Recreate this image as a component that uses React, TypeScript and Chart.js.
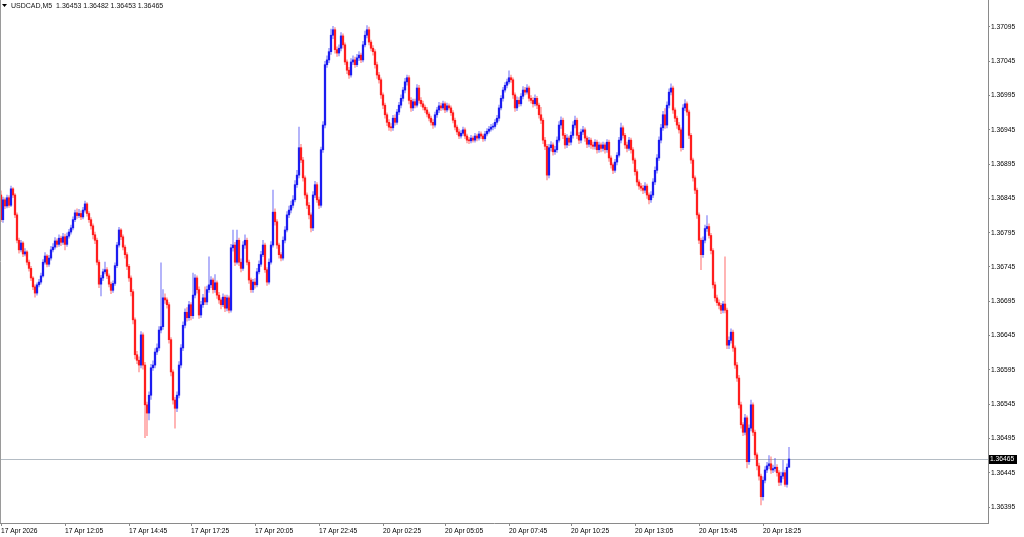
import React, { useEffect, useRef } from "react";
import { Chart, registerables } from "chart.js";

Chart.register(...registerables);

const symbol = "USDCAD,M5";

const closes = [
  1.36814,1.36843,1.36834,1.36846,1.36835,1.36859,1.36850,1.36821,1.36784,1.36770,
  1.36780,1.36764,1.36767,1.36752,1.36743,1.36729,1.36716,1.36707,1.36719,1.36723,
  1.36732,1.36752,1.36761,1.36749,1.36758,1.36770,1.36774,1.36783,1.36778,1.36787,
  1.36781,1.36789,1.36778,1.36790,1.36796,1.36802,1.36814,1.36824,1.36820,1.36823,
  1.36818,1.36828,1.36837,1.36823,1.36814,1.36805,1.36792,1.36784,1.36752,1.36720,
  1.36729,1.36738,1.36741,1.36732,1.36720,1.36711,1.36721,1.36747,1.36777,1.36799,
  1.36789,1.36774,1.36763,1.36746,1.36729,1.36709,1.36668,1.36617,1.36609,1.36602,
  1.36646,1.36602,1.36544,1.36532,1.36558,1.36598,1.36602,1.36621,1.36627,1.36653,
  1.36658,1.36700,1.36697,1.36690,1.36639,1.36592,1.36551,1.36539,1.36558,1.36602,
  1.36627,1.36660,1.36679,1.36671,1.36690,1.36674,1.36704,1.36729,1.36712,1.36675,
  1.36690,1.36700,1.36694,1.36712,1.36719,1.36726,1.36712,1.36722,1.36704,1.36697,
  1.36690,1.36701,1.36685,1.36700,1.36682,1.36773,1.36777,1.36752,1.36784,1.36752,
  1.36743,1.36777,1.36784,1.36752,1.36726,1.36712,1.36723,1.36719,1.36738,1.36749,
  1.36763,1.36777,1.36741,1.36723,1.36752,1.36777,1.36825,1.36811,1.36777,1.36763,
  1.36758,1.36784,1.36799,1.36821,1.36828,1.36835,1.36843,1.36865,1.36879,1.36919,
  1.36901,1.36875,1.36850,1.36835,1.36821,1.36802,1.36850,1.36865,1.36843,1.36835,
  1.36916,1.36952,1.37040,1.37047,1.37059,1.37083,1.37091,1.37062,1.37057,1.37064,
  1.37082,1.37069,1.37044,1.37032,1.37025,1.37044,1.37047,1.37040,1.37050,1.37054,
  1.37047,1.37069,1.37083,1.37091,1.37073,1.37064,1.37059,1.37040,1.37025,1.37018,
  1.36996,1.36981,1.36967,1.36956,1.36949,1.36948,1.36962,1.36956,1.36971,1.36981,
  1.36991,1.37003,1.37015,1.37021,1.36988,1.36977,1.36986,1.36981,1.37006,1.36988,
  1.36983,1.36978,1.36974,1.36968,1.36962,1.36956,1.36952,1.36967,1.36974,1.36980,
  1.36977,1.36983,1.36974,1.36980,1.36977,1.36970,1.36959,1.36949,1.36942,1.36936,
  1.36940,1.36945,1.36936,1.36930,1.36929,1.36933,1.36930,1.36936,1.36933,1.36939,
  1.36936,1.36932,1.36939,1.36943,1.36946,1.36949,1.36950,1.36956,1.36962,1.36977,
  1.36991,1.37003,1.37010,1.37015,1.37021,1.37018,1.36996,1.36977,1.36988,1.36983,
  1.36994,1.37003,1.37000,1.37006,1.36991,1.36988,1.36983,1.36991,1.36981,1.36967,
  1.36959,1.36930,1.36921,1.36879,1.36919,1.36923,1.36913,1.36916,1.36930,1.36952,
  1.36959,1.36937,1.36923,1.36933,1.36927,1.36937,1.36952,1.36959,1.36937,1.36930,
  1.36942,1.36945,1.36933,1.36924,1.36930,1.36923,1.36921,1.36927,1.36916,1.36923,
  1.36918,1.36923,1.36916,1.36927,1.36904,1.36894,1.36886,1.36898,1.36908,1.36930,
  1.36948,1.36937,1.36923,1.36918,1.36930,1.36916,1.36901,1.36884,1.36869,1.36863,
  1.36860,1.36857,1.36863,1.36850,1.36843,1.36850,1.36869,1.36886,1.36904,1.36930,
  1.36948,1.36967,1.36952,1.36981,1.37000,1.37006,1.36974,1.36962,1.36952,1.36945,
  1.36919,1.36977,1.36983,1.36971,1.36937,1.36901,1.36875,1.36857,1.36821,1.36784,
  1.36763,1.36784,1.36801,1.36804,1.36791,1.36769,1.36719,1.36700,1.36693,1.36689,
  1.36682,1.36691,1.36682,1.36631,1.36638,1.36650,1.36627,1.36602,1.36583,1.36544,
  1.36515,1.36504,1.36525,1.36461,1.36510,1.36544,1.36504,1.36471,1.36455,1.36440,
  1.36410,1.36434,1.36449,1.36455,1.36458,1.36449,1.36451,1.36453,1.36445,1.36431,
  1.36440,1.36445,1.36428,1.36453,1.36465,
];

const opens = [
  1.36850,
  1.36814,1.36843,1.36834,1.36846,1.36835,1.36859,1.36850,1.36821,1.36784,1.36770,
  1.36780,1.36764,1.36767,1.36752,1.36743,1.36729,1.36716,1.36707,1.36719,1.36723,
  1.36732,1.36752,1.36761,1.36749,1.36758,1.36770,1.36774,1.36783,1.36778,1.36787,
  1.36781,1.36789,1.36778,1.36790,1.36796,1.36802,1.36814,1.36824,1.36820,1.36823,
  1.36818,1.36828,1.36837,1.36823,1.36814,1.36805,1.36792,1.36784,1.36752,1.36720,
  1.36729,1.36738,1.36741,1.36732,1.36720,1.36711,1.36721,1.36747,1.36777,1.36799,
  1.36789,1.36774,1.36763,1.36746,1.36729,1.36709,1.36668,1.36617,1.36609,1.36602,
  1.36646,1.36602,1.36544,1.36532,1.36558,1.36598,1.36602,1.36621,1.36627,1.36653,
  1.36658,1.36700,1.36697,1.36690,1.36639,1.36592,1.36551,1.36539,1.36558,1.36602,
  1.36627,1.36660,1.36679,1.36671,1.36690,1.36674,1.36704,1.36729,1.36712,1.36675,
  1.36690,1.36700,1.36694,1.36712,1.36719,1.36726,1.36712,1.36722,1.36704,1.36697,
  1.36690,1.36701,1.36685,1.36700,1.36682,1.36773,1.36777,1.36752,1.36784,1.36752,
  1.36743,1.36777,1.36784,1.36752,1.36726,1.36712,1.36723,1.36719,1.36738,1.36749,
  1.36763,1.36777,1.36741,1.36723,1.36752,1.36777,1.36825,1.36811,1.36777,1.36763,
  1.36758,1.36784,1.36799,1.36821,1.36828,1.36835,1.36843,1.36865,1.36879,1.36919,
  1.36901,1.36875,1.36850,1.36835,1.36821,1.36802,1.36850,1.36865,1.36843,1.36835,
  1.36916,1.36952,1.37040,1.37047,1.37059,1.37083,1.37091,1.37062,1.37057,1.37064,
  1.37082,1.37069,1.37044,1.37032,1.37025,1.37044,1.37047,1.37040,1.37050,1.37054,
  1.37047,1.37069,1.37083,1.37091,1.37073,1.37064,1.37059,1.37040,1.37025,1.37018,
  1.36996,1.36981,1.36967,1.36956,1.36949,1.36948,1.36962,1.36956,1.36971,1.36981,
  1.36991,1.37003,1.37015,1.37021,1.36988,1.36977,1.36986,1.36981,1.37006,1.36988,
  1.36983,1.36978,1.36974,1.36968,1.36962,1.36956,1.36952,1.36967,1.36974,1.36980,
  1.36977,1.36983,1.36974,1.36980,1.36977,1.36970,1.36959,1.36949,1.36942,1.36936,
  1.36940,1.36945,1.36936,1.36930,1.36929,1.36933,1.36930,1.36936,1.36933,1.36939,
  1.36936,1.36932,1.36939,1.36943,1.36946,1.36949,1.36950,1.36956,1.36962,1.36977,
  1.36991,1.37003,1.37010,1.37015,1.37021,1.37018,1.36996,1.36977,1.36988,1.36983,
  1.36994,1.37003,1.37000,1.37006,1.36991,1.36988,1.36983,1.36991,1.36981,1.36967,
  1.36959,1.36930,1.36921,1.36879,1.36919,1.36923,1.36913,1.36916,1.36930,1.36952,
  1.36959,1.36937,1.36923,1.36933,1.36927,1.36937,1.36952,1.36959,1.36937,1.36930,
  1.36942,1.36945,1.36933,1.36924,1.36930,1.36923,1.36921,1.36927,1.36916,1.36923,
  1.36918,1.36923,1.36916,1.36927,1.36904,1.36894,1.36886,1.36898,1.36908,1.36930,
  1.36948,1.36937,1.36923,1.36918,1.36930,1.36916,1.36901,1.36884,1.36869,1.36863,
  1.36860,1.36857,1.36863,1.36850,1.36843,1.36850,1.36869,1.36886,1.36904,1.36930,
  1.36948,1.36967,1.36952,1.36981,1.37000,1.37006,1.36974,1.36962,1.36952,1.36945,
  1.36919,1.36977,1.36983,1.36971,1.36937,1.36901,1.36875,1.36857,1.36821,1.36784,
  1.36763,1.36784,1.36801,1.36804,1.36791,1.36769,1.36719,1.36700,1.36693,1.36689,
  1.36682,1.36691,1.36682,1.36631,1.36638,1.36650,1.36627,1.36602,1.36583,1.36544,
  1.36515,1.36504,1.36525,1.36461,1.36510,1.36544,1.36504,1.36471,1.36455,1.36440,
  1.36410,1.36434,1.36449,1.36455,1.36458,1.36449,1.36451,1.36453,1.36445,1.36431,
  1.36440,1.36445,1.36428,1.36453,
];

const highs = [
  1.36856,1.36847,1.36846,1.36850,1.36849,1.36863,1.36861,1.36852,1.36824,1.36787,
  1.36784,1.36782,1.36772,1.36769,1.36755,1.36746,1.36731,1.36719,1.36722,1.36727,
  1.36736,1.36756,1.36766,1.36763,1.36762,1.36775,1.36779,1.36788,1.36786,1.36792,
  1.36790,1.36794,1.36793,1.36795,1.36800,1.36806,1.36818,1.36828,1.36830,1.36829,
  1.36827,1.36832,1.36841,1.36839,1.36826,1.36817,1.36808,1.36796,1.36787,1.36755,
  1.36733,1.36742,1.36752,1.36744,1.36735,1.36723,1.36725,1.36751,1.36781,1.36803,
  1.36801,1.36792,1.36777,1.36766,1.36749,1.36732,1.36712,1.36671,1.36622,1.36614,
  1.36651,1.36649,1.36606,1.36548,1.36563,1.36603,1.36608,1.36626,1.36633,1.36658,
  1.36751,1.36712,1.36706,1.36700,1.36693,1.36642,1.36595,1.36555,1.36563,1.36607,
  1.36632,1.36665,1.36684,1.36686,1.36695,1.36693,1.36736,1.36734,1.36732,1.36716,
  1.36695,1.36705,1.36716,1.36717,1.36760,1.36731,1.36729,1.36734,1.36725,1.36708,
  1.36700,1.36706,1.36704,1.36704,1.36703,1.36778,1.36799,1.36781,1.36799,1.36787,
  1.36757,1.36782,1.36792,1.36787,1.36755,1.36729,1.36727,1.36728,1.36743,1.36754,
  1.36768,1.36784,1.36780,1.36744,1.36757,1.36782,1.36857,1.36830,1.36814,1.36780,
  1.36766,1.36789,1.36804,1.36826,1.36834,1.36841,1.36849,1.36871,1.36886,1.36949,
  1.36924,1.36905,1.36878,1.36853,1.36839,1.36824,1.36855,1.36870,1.36868,1.36847,
  1.36920,1.36957,1.37045,1.37053,1.37064,1.37092,1.37096,1.37094,1.37066,1.37069,
  1.37087,1.37085,1.37072,1.37047,1.37036,1.37049,1.37053,1.37051,1.37055,1.37059,
  1.37057,1.37074,1.37089,1.37097,1.37095,1.37076,1.37068,1.37062,1.37044,1.37029,
  1.37021,1.36999,1.36984,1.36970,1.36960,1.36954,1.36966,1.36967,1.36975,1.36985,
  1.36996,1.37007,1.37020,1.37025,1.37024,1.36992,1.36990,1.36990,1.37011,1.37010,
  1.36992,1.36987,1.36981,1.36978,1.36971,1.36965,1.36960,1.36971,1.36978,1.36985,
  1.36984,1.36987,1.36986,1.36984,1.36983,1.36980,1.36973,1.36962,1.36952,1.36946,
  1.36944,1.36949,1.36948,1.36939,1.36934,1.36937,1.36936,1.36940,1.36939,1.36943,
  1.36942,1.36939,1.36943,1.36947,1.36950,1.36953,1.36954,1.36960,1.36966,1.36981,
  1.36995,1.37007,1.37014,1.37019,1.37031,1.37025,1.37021,1.36999,1.36993,1.36992,
  1.36998,1.37008,1.37007,1.37011,1.37009,1.36995,1.36992,1.36996,1.36994,1.36984,
  1.36978,1.36962,1.36934,1.36924,1.36924,1.36928,1.36926,1.36921,1.36935,1.36957,
  1.36964,1.36962,1.36940,1.36938,1.36936,1.36942,1.36957,1.36965,1.36962,1.36941,
  1.36946,1.36950,1.36948,1.36936,1.36934,1.36933,1.36927,1.36931,1.36930,1.36927,
  1.36926,1.36927,1.36926,1.36931,1.36930,1.36907,1.36897,1.36902,1.36912,1.36934,
  1.36955,1.36951,1.36940,1.36927,1.36934,1.36933,1.36919,1.36904,1.36887,1.36872,
  1.36867,1.36864,1.36868,1.36866,1.36853,1.36855,1.36874,1.36891,1.36909,1.36935,
  1.36953,1.36972,1.36976,1.36986,1.37005,1.37012,1.37009,1.36977,1.36965,1.36956,
  1.36948,1.36982,1.36989,1.36986,1.36974,1.36940,1.36904,1.36878,1.36860,1.36824,
  1.36787,1.36789,1.36806,1.36820,1.36808,1.36794,1.36772,1.36723,1.36704,1.36697,
  1.36692,1.36695,1.36760,1.36685,1.36643,1.36655,1.36653,1.36630,1.36606,1.36587,
  1.36548,1.36518,1.36530,1.36528,1.36515,1.36551,1.36547,1.36507,1.36474,1.36459,
  1.36443,1.36439,1.36454,1.36460,1.36470,1.36468,1.36456,1.36466,1.36457,1.36448,
  1.36446,1.36463,1.36449,1.36458,1.36482,
];

const lows = [
  1.36811,1.36810,1.36830,1.36831,1.36832,1.36833,1.36846,1.36817,1.36780,1.36765,
  1.36767,1.36760,1.36761,1.36748,1.36739,1.36725,1.36712,1.36701,1.36704,1.36716,
  1.36720,1.36730,1.36749,1.36745,1.36746,1.36755,1.36767,1.36771,1.36774,1.36775,
  1.36776,1.36778,1.36770,1.36775,1.36787,1.36793,1.36799,1.36811,1.36816,1.36817,
  1.36814,1.36815,1.36825,1.36819,1.36810,1.36800,1.36786,1.36779,1.36748,1.36715,
  1.36703,1.36725,1.36735,1.36728,1.36716,1.36706,1.36708,1.36718,1.36744,1.36774,
  1.36785,1.36770,1.36758,1.36741,1.36724,1.36703,1.36662,1.36611,1.36604,1.36592,
  1.36598,1.36596,1.36496,1.36499,1.36522,1.36552,1.36594,1.36598,1.36617,1.36623,
  1.36649,1.36654,1.36692,1.36685,1.36634,1.36586,1.36545,1.36510,1.36534,1.36554,
  1.36598,1.36623,1.36656,1.36666,1.36667,1.36668,1.36670,1.36700,1.36707,1.36670,
  1.36671,1.36686,1.36690,1.36690,1.36708,1.36715,1.36707,1.36708,1.36699,1.36692,
  1.36684,1.36687,1.36680,1.36681,1.36678,1.36679,1.36768,1.36747,1.36749,1.36747,
  1.36738,1.36740,1.36772,1.36748,1.36721,1.36708,1.36708,1.36714,1.36716,1.36735,
  1.36746,1.36760,1.36737,1.36718,1.36720,1.36749,1.36774,1.36806,1.36772,1.36758,
  1.36754,1.36755,1.36780,1.36796,1.36817,1.36824,1.36831,1.36840,1.36861,1.36875,
  1.36897,1.36870,1.36845,1.36830,1.36815,1.36796,1.36798,1.36846,1.36839,1.36830,
  1.36832,1.36912,1.36948,1.37036,1.37043,1.37055,1.37078,1.37057,1.37052,1.37053,
  1.37060,1.37064,1.37040,1.37027,1.37020,1.37022,1.37040,1.37036,1.37037,1.37046,
  1.37043,1.37044,1.37066,1.37079,1.37069,1.37060,1.37054,1.37035,1.37020,1.37013,
  1.36991,1.36976,1.36962,1.36951,1.36944,1.36943,1.36944,1.36952,1.36953,1.36967,
  1.36977,1.36987,1.36999,1.37010,1.36983,1.36972,1.36973,1.36977,1.36978,1.36984,
  1.36979,1.36974,1.36970,1.36964,1.36958,1.36952,1.36947,1.36949,1.36963,1.36970,
  1.36973,1.36974,1.36970,1.36971,1.36974,1.36966,1.36955,1.36945,1.36938,1.36932,
  1.36933,1.36937,1.36932,1.36926,1.36925,1.36926,1.36927,1.36927,1.36929,1.36930,
  1.36932,1.36928,1.36929,1.36936,1.36940,1.36943,1.36945,1.36947,1.36953,1.36958,
  1.36974,1.36987,1.37000,1.37006,1.37012,1.37014,1.36991,1.36972,1.36973,1.36979,
  1.36980,1.36990,1.36996,1.36997,1.36987,1.36984,1.36978,1.36980,1.36976,1.36962,
  1.36954,1.36925,1.36916,1.36872,1.36875,1.36914,1.36908,1.36909,1.36912,1.36927,
  1.36947,1.36932,1.36918,1.36919,1.36922,1.36923,1.36933,1.36948,1.36932,1.36925,
  1.36926,1.36938,1.36928,1.36919,1.36920,1.36918,1.36917,1.36917,1.36911,1.36912,
  1.36913,1.36914,1.36911,1.36912,1.36899,1.36889,1.36881,1.36883,1.36894,1.36905,
  1.36926,1.36933,1.36918,1.36913,1.36915,1.36911,1.36896,1.36879,1.36864,1.36858,
  1.36856,1.36852,1.36853,1.36845,1.36837,1.36839,1.36846,1.36865,1.36882,1.36900,
  1.36926,1.36944,1.36947,1.36948,1.36977,1.36996,1.36969,1.36957,1.36947,1.36940,
  1.36914,1.36916,1.36973,1.36966,1.36932,1.36896,1.36870,1.36852,1.36816,1.36779,
  1.36741,1.36759,1.36780,1.36797,1.36787,1.36764,1.36714,1.36695,1.36689,1.36684,
  1.36677,1.36678,1.36678,1.36626,1.36626,1.36634,1.36622,1.36597,1.36578,1.36539,
  1.36510,1.36499,1.36500,1.36452,1.36457,1.36506,1.36499,1.36466,1.36449,1.36434,
  1.36398,1.36405,1.36430,1.36445,1.36451,1.36444,1.36445,1.36447,1.36440,1.36426,
  1.36427,1.36436,1.36425,1.36424,1.36453,
];

const timeLabels = [
  "17 Apr 2026", "17 Apr 12:05", "17 Apr 14:45", "17 Apr 17:25", "17 Apr 20:05",
  "17 Apr 22:45", "20 Apr 02:25", "20 Apr 05:05", "20 Apr 07:45", "20 Apr 10:25",
  "20 Apr 13:05", "20 Apr 15:45", "20 Apr 18:25",
];
const timeLabelBars = [0, 32, 64, 95, 127, 159, 191, 222, 254, 285, 317, 349, 381];

const priceTicks = [
  1.36395, 1.36445, 1.36495, 1.36545, 1.36595, 1.36645, 1.36695, 1.36745,
  1.36795, 1.36845, 1.36895, 1.36945, 1.36995, 1.37045, 1.37095,
];

const BULL = "#1c1cf0";
const BEAR = "#ff1e1e";
const BULL_WICK = "rgba(40,40,240,0.42)";
const BEAR_WICK = "rgba(255,40,40,0.42)";
const FONT = "'Liberation Sans', Arial, sans-serif";

export default function App() {
  const canvasRef = useRef<HTMLCanvasElement | null>(null);

  useEffect(() => {
    document.body.style.margin = "0";
    const canvas = canvasRef.current;
    if (!canvas) return;

    const n = closes.length;
    const bull = (i: number) => closes[i] >= opens[i];
    const wickData = closes.map((_, i) => ({ x: i, y: [lows[i], highs[i]] }));
    const bodyData = closes.map((_, i) => ({
      x: i,
      y: [Math.min(opens[i], closes[i]), Math.max(opens[i], closes[i])],
    }));

    const overlay = {
      id: "mt4overlay",
      beforeDatasetsDraw(chart: any) {
        const { ctx, chartArea } = chart;
        const ys = chart.scales.y;
        const yy = Math.round(ys.getPixelForValue(closes[n - 1])) + 0.5;
        ctx.save();
        ctx.strokeStyle = "#b4bcc4";
        ctx.lineWidth = 1;
        ctx.beginPath();
        ctx.moveTo(chartArea.left, yy);
        ctx.lineTo(chartArea.right, yy);
        ctx.stroke();
        ctx.restore();
      },
      afterDraw(chart: any) {
        const { ctx, chartArea } = chart;
        const ys = chart.scales.y;
        ctx.save();
        // left frame
        ctx.strokeStyle = "#9a9a9a";
        ctx.lineWidth = 1;
        ctx.beginPath();
        ctx.moveTo(0.5, 0);
        ctx.lineTo(0.5, chartArea.bottom);
        ctx.stroke();
        // current price box
        const yc = Math.round(ys.getPixelForValue(closes[n - 1]));
        ctx.fillStyle = "#000";
        ctx.fillRect(chartArea.right + 1, yc - 4, 28, 9);
        ctx.fillStyle = "#fff";
        ctx.font = `6.7px ${FONT}`;
        ctx.textBaseline = "middle";
        ctx.textAlign = "left";
        ctx.fillText(closes[n - 1].toFixed(5), chartArea.right + 2, yc + 0.5);
        // header
        ctx.fillStyle = "#000";
        ctx.beginPath();
        ctx.moveTo(2, 4);
        ctx.lineTo(7, 4);
        ctx.lineTo(4.5, 7);
        ctx.closePath();
        ctx.fill();
        ctx.font = `7px ${FONT}`;
        ctx.fillStyle = "#111";
        const head = `${symbol}  ${opens[n - 1].toFixed(5)} ${highs[n - 1].toFixed(5)} ${lows[n - 1].toFixed(5)} ${closes[n - 1].toFixed(5)}`;
        ctx.fillText(head, 11, 6);
        ctx.restore();
      },
    };

    const chart = new Chart(canvas, {
      type: "bar",
      data: {
        datasets: [
          {
            data: bodyData as any,
            backgroundColor: (c: any) => (bull(c.dataIndex) ? BULL : BEAR),
            barThickness: 1.6,
            minBarLength: 1,
            grouped: false,
            order: 1,
            borderWidth: 0,
          } as any,
          {
            data: wickData as any,
            backgroundColor: (c: any) => (bull(c.dataIndex) ? BULL_WICK : BEAR_WICK),
            barThickness: 1,
            grouped: false,
            order: 2,
            borderWidth: 0,
          } as any,
        ],
      },
      options: {
        responsive: false,
        animation: false,
        devicePixelRatio: 1,
        events: [],
        layout: { padding: 0 },
        plugins: { legend: { display: false }, tooltip: { enabled: false } },
        scales: {
          x: {
            type: "linear",
            min: -0.5,
            max: 493.5,
            offset: false,
            grid: { display: true, drawOnChartArea: false, drawTicks: true, tickLength: 3, color: "#8a8a8a", offset: false },
            border: { display: true, color: "#8a8a8a" },
            afterBuildTicks: (s: any) => {
              s.ticks = timeLabelBars.map((v) => ({ value: v }));
            },
            afterFit: (s: any) => {
              s.height = 14;
              s.paddingLeft = 0;
              s.paddingRight = 0;
              s.paddingTop = 0;
              s.paddingBottom = 0;
            },
            ticks: {
              autoSkip: false,
              maxRotation: 0,
              minRotation: 0,
              align: "start",
              padding: 1,
              color: "#000",
              font: { family: FONT, size: 6.7 },
              callback: (_v: any, i: number) => timeLabels[i],
            },
          },
          y: {
            position: "right",
            min: 1.3637167,
            max: 1.3713437,
            grid: { display: true, drawOnChartArea: false, drawTicks: true, tickLength: 2, color: "#8a8a8a" },
            border: { display: true, color: "#8a8a8a" },
            afterBuildTicks: (s: any) => {
              s.ticks = priceTicks.map((v) => ({ value: v }));
            },
            afterFit: (s: any) => {
              s.width = 36;
              s.paddingLeft = 0;
              s.paddingRight = 0;
              s.paddingTop = 0;
              s.paddingBottom = 0;
            },
            ticks: {
              padding: 1,
              color: "#000",
              font: { family: FONT, size: 6.7 },
              callback: (v: any) => Number(v).toFixed(5),
            },
          },
        },
      } as any,
      plugins: [overlay],
    });

    return () => chart.destroy();
  }, []);

  return (
    <div style={{ position: "relative", width: 1024, height: 537, background: "#fff" }}>
      <canvas ref={canvasRef} width={1024} height={537} style={{ width: 1024, height: 537, display: "block" }} />
    </div>
  );
}
